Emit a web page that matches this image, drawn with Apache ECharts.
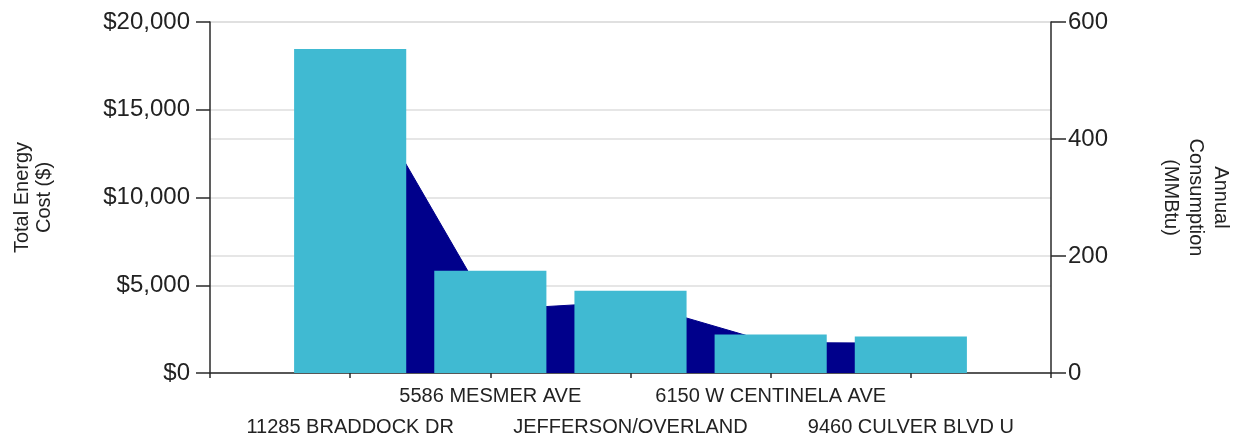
<!DOCTYPE html>
<html>
<head>
<meta charset="utf-8">
<title>Total Energy Cost and Annual Consumption by Site</title>
<script src="https://cdn.jsdelivr.net/npm/echarts@6/dist/echarts.min.js"></script>
<style>
  html, body { margin: 0; padding: 0; background: #ffffff; overflow: hidden; width: 1241px; height: 443px; }
  #chart { width: 1241px; height: 443px; display: block; }
</style>
</head>
<body>
<div id="chart"></div>
<script>
// Sites, ordered by total energy cost
const sites = ['11285 BRADDOCK DR', '5586 MESMER AVE', 'JEFFERSON/OVERLAND', '6150 W CENTINELA AVE', '9460 CULVER BLVD U'];
// Total energy cost per site ($)
const totalCost = [18460, 5820, 4690, 2190, 2075];
// Annual consumption per site (MMBtu)
const consumption = [522, 108, 122, 52, 51];

// Left and right axis ranges
const costTicks = { min: 0, max: 20000, interval: 5000 };
const energyTicks = { min: 0, max: 600, interval: 200 };

// The x axis runs edge to edge with one empty slot at each end,
// so every site sits on a tick mark.
const axisCats = [''].concat(sites, ['']);
const pad = arr => [null].concat(arr, [null]);

const FONT = 'Arial, "Liberation Sans", sans-serif';
const TEXT = '#222222';
const AXIS = '#2a2a2a';
const GRID = '#dedede';

const chart = echarts.init(document.getElementById('chart'), null, { renderer: 'canvas', width: 1241, height: 443 });

chart.setOption({
  animation: false,
  backgroundColor: '#ffffff',
  grid: { left: 210, right: 177, top: 22, bottom: 66, containLabel: false },
  xAxis: {
    type: 'category',
    data: axisCats,
    boundaryGap: false,
    axisLine: { show: true, lineStyle: { color: AXIS, width: 1.5 } },
    axisTick: { show: true, interval: 0, length: 5, lineStyle: { color: AXIS, width: 1.5 } },
    axisLabel: {
      interval: 0,
      hideOverlap: false,
      margin: 8,
      fontFamily: FONT,
      fontSize: 20,
      lineHeight: 31,
      color: TEXT,
      // alternate sites drop to a second row
      formatter: (v, i) => (i % 2 === 1 ? '\n' + v : v)
    },
    splitLine: { show: false }
  },
  yAxis: [
    {
      type: 'value',
      position: 'left',
      min: costTicks.min, max: costTicks.max, interval: costTicks.interval,
      name: 'Total Energy\nCost ($)',
      nameLocation: 'middle',
      nameGap: 155,
      nameTextStyle: { fontFamily: FONT, fontSize: 20, lineHeight: 22, color: TEXT },
      axisLine: { show: true, lineStyle: { color: AXIS, width: 1.5 } },
      axisTick: { show: true, length: 14, lineStyle: { color: AXIS, width: 1.5 } },
      axisLabel: {
        margin: 20,
        fontFamily: FONT, fontSize: 24, color: TEXT,
        formatter: v => '$' + v.toLocaleString('en-US')
      },
      splitLine: { show: true, lineStyle: { color: GRID, width: 1.5 } }
    },
    {
      type: 'value',
      position: 'right',
      min: energyTicks.min, max: energyTicks.max, interval: energyTicks.interval,
      name: 'Annual\nConsumption\n(MMBtu)',
      nameLocation: 'middle',
      nameRotate: -90,
      nameGap: 107,
      nameTextStyle: { fontFamily: FONT, fontSize: 20, lineHeight: 25, color: TEXT },
      axisLine: { show: true, lineStyle: { color: AXIS, width: 1.5 } },
      axisTick: { show: true, length: 15, lineStyle: { color: AXIS, width: 1.5 } },
      axisLabel: { margin: 17, fontFamily: FONT, fontSize: 24, color: TEXT },
      splitLine: { show: true, lineStyle: { color: GRID, width: 1.5 } }
    }
  ],
  series: [
    {
      name: 'Annual Consumption (MMBtu)',
      type: 'line',
      yAxisIndex: 1,
      data: pad(consumption),
      symbol: 'none',
      lineStyle: { color: '#00008b', width: 1 },
      areaStyle: { color: '#00008b', opacity: 1 },
      z: 2
    },
    {
      name: 'Total Energy Cost ($)',
      type: 'bar',
      yAxisIndex: 0,
      data: pad(totalCost),
      barWidth: '80%',
      itemStyle: { color: '#40bad2' },
      z: 3
    }
  ]
});
</script>
</body>
</html>
